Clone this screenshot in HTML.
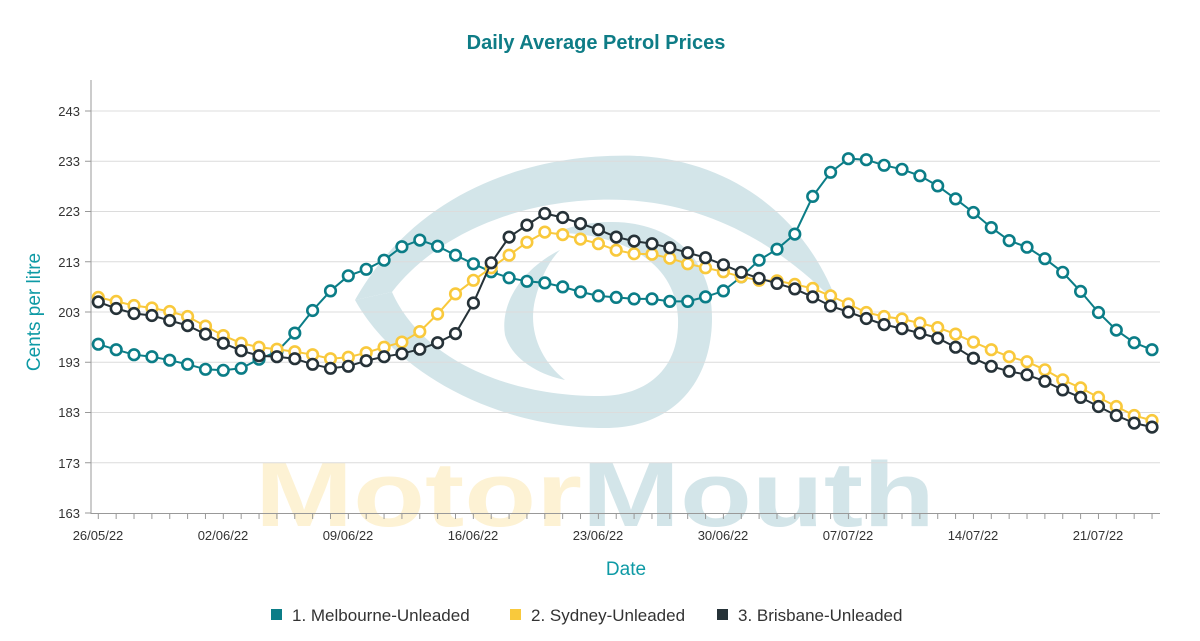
<!DOCTYPE html>
<html><head><meta charset="utf-8"><style>
html,body{margin:0;padding:0;background:#fff;}
svg{display:block;font-family:"Liberation Sans",sans-serif;}
</style></head><body>
<svg width="1200" height="641" viewBox="0 0 1200 641" xmlns="http://www.w3.org/2000/svg">
<defs>
<marker id="mt" viewBox="-7 -7 14 14" markerWidth="14" markerHeight="14" refX="0" refY="0" markerUnits="userSpaceOnUse"><circle r="5.3" fill="#fff" stroke="#0b7d87" stroke-width="2.6"/></marker>
<marker id="my" viewBox="-7 -7 14 14" markerWidth="14" markerHeight="14" refX="0" refY="0" markerUnits="userSpaceOnUse"><circle r="5.3" fill="#fff" stroke="#f9c93c" stroke-width="2.6"/></marker>
<marker id="mb" viewBox="-7 -7 14 14" markerWidth="14" markerHeight="14" refX="0" refY="0" markerUnits="userSpaceOnUse"><circle r="5.3" fill="#fff" stroke="#263238" stroke-width="2.6"/></marker>
</defs>
<rect width="1200" height="641" fill="#fff"/>
<g fill="#d3e5e9">
<path d="M355,300 C420,185 540,152 640,156 C740,162 810,225 838,305 C790,255 720,205 625,200 C530,196 440,230 392,292 Z"/>
<path d="M355,300 C395,372 495,428 605,428 C675,428 712,380 712,318 C712,255 668,222 612,222 C590,222 570,226 555,233 C600,232 675,250 678,318 C680,375 640,396 600,396 C500,396 420,355 392,292 Z"/>
<path d="M560,250 C520,270 500,305 505,335 C512,360 540,375 565,380 C540,360 528,330 535,300 C540,280 548,262 560,250 Z"/>
</g>
<text x="255" y="526" font-size="92" font-weight="bold" textLength="680" lengthAdjust="spacingAndGlyphs"><tspan fill="#fdf2d4">Motor</tspan><tspan fill="#d3e5e9">Mouth</tspan></text>
<g stroke="#dcdcdc" stroke-width="1">
<line x1="91" x2="1160" y1="111" y2="111"/><line x1="91" x2="1160" y1="161.25" y2="161.25"/><line x1="91" x2="1160" y1="211.5" y2="211.5"/><line x1="91" x2="1160" y1="261.75" y2="261.75"/><line x1="91" x2="1160" y1="312" y2="312"/><line x1="91" x2="1160" y1="362.25" y2="362.25"/><line x1="91" x2="1160" y1="412.5" y2="412.5"/><line x1="91" x2="1160" y1="462.75" y2="462.75"/>
</g>
<g stroke="#999"><line x1="85" x2="91" y1="111" y2="111"/><line x1="85" x2="91" y1="161.25" y2="161.25"/><line x1="85" x2="91" y1="211.5" y2="211.5"/><line x1="85" x2="91" y1="261.75" y2="261.75"/><line x1="85" x2="91" y1="312" y2="312"/><line x1="85" x2="91" y1="362.25" y2="362.25"/><line x1="85" x2="91" y1="412.5" y2="412.5"/><line x1="85" x2="91" y1="462.75" y2="462.75"/><line x1="85" x2="91" y1="513" y2="513"/></g>
<line x1="91" y1="80" x2="91" y2="514" stroke="#999"/>
<line x1="91" y1="513.5" x2="1160" y2="513.5" stroke="#999"/>
<line x1="97.8" y1="516" x2="1160" y2="516" stroke="#999" stroke-width="6" stroke-dasharray="1 16.86"/>
<g font-size="13" fill="#333" text-anchor="end">
<text x="80" y="116">243</text><text x="80" y="166">233</text><text x="80" y="216">223</text><text x="80" y="267">213</text><text x="80" y="317">203</text><text x="80" y="367">193</text><text x="80" y="417">183</text><text x="80" y="468">173</text><text x="80" y="518">163</text>
</g>
<g font-size="13" fill="#333" text-anchor="middle">
<text x="98" y="540">26/05/22</text><text x="223" y="540">02/06/22</text><text x="348" y="540">09/06/22</text><text x="473" y="540">16/06/22</text><text x="598" y="540">23/06/22</text><text x="723" y="540">30/06/22</text><text x="848" y="540">07/07/22</text><text x="973" y="540">14/07/22</text><text x="1098" y="540">21/07/22</text>
</g>
<polyline fill="none" stroke="#0b7d87" stroke-width="2" marker-start="url(#mt)" marker-mid="url(#mt)" marker-end="url(#mt)" points="98.3,344.2 116.2,349.7 134.0,354.7 151.9,356.7 169.7,360.2 187.6,364.3 205.5,369.3 223.3,370.3 241.2,368.3 259.0,359.2 276.9,351.7 294.8,333.1 312.6,310.5 330.5,290.9 348.3,275.8 366.2,269.3 384.1,260.2 401.9,246.7 419.8,240.1 437.6,246.2 455.5,255.2 473.4,263.8 491.2,271.8 509.1,277.8 526.9,281.3 544.8,282.9 562.7,286.9 580.5,291.9 598.4,295.9 616.2,297.4 634.1,298.9 652.0,298.9 669.8,301.4 687.7,301.4 705.5,296.9 723.4,290.9 741.3,276.8 759.1,260.2 777.0,249.2 794.8,234.1 812.7,196.4 830.6,172.3 848.4,158.7 866.3,159.7 884.1,165.3 902.0,169.3 919.9,175.8 937.7,185.9 955.6,198.9 973.4,212.5 991.3,227.6 1009.2,240.6 1027.0,247.2 1044.9,258.7 1062.7,272.3 1080.6,291.4 1098.5,312.5 1116.3,330.1 1134.2,342.7 1152.0,349.7"/>
<polyline fill="none" stroke="#f9c93c" stroke-width="2" marker-start="url(#my)" marker-mid="url(#my)" marker-end="url(#my)" points="98.3,297.4 116.2,301.4 134.0,305.5 151.9,308.0 169.7,311.5 187.6,316.5 205.5,326.1 223.3,335.6 241.2,343.2 259.0,347.2 276.9,349.2 294.8,351.7 312.6,354.7 330.5,358.7 348.3,357.2 366.2,352.7 384.1,347.2 401.9,342.1 419.8,331.6 437.6,314.0 455.5,293.9 473.4,280.3 491.2,267.8 509.1,255.2 526.9,242.2 544.8,232.1 562.7,234.6 580.5,239.1 598.4,243.7 616.2,250.2 634.1,253.7 652.0,254.2 669.8,258.2 687.7,263.8 705.5,267.8 723.4,271.8 741.3,276.8 759.1,280.3 777.0,280.8 794.8,284.4 812.7,288.4 830.6,295.9 848.4,304.0 866.3,312.5 884.1,316.5 902.0,319.0 919.9,323.1 937.7,327.6 955.6,334.1 973.4,342.1 991.3,349.7 1009.2,356.7 1027.0,361.7 1044.9,369.8 1062.7,379.8 1080.6,387.9 1098.5,397.4 1116.3,406.5 1134.2,415.5 1152.0,420.5"/>
<polyline fill="none" stroke="#263238" stroke-width="2" marker-start="url(#mb)" marker-mid="url(#mb)" marker-end="url(#mb)" points="98.3,301.9 116.2,308.5 134.0,313.5 151.9,315.5 169.7,320.5 187.6,325.6 205.5,334.1 223.3,343.2 241.2,350.7 259.0,355.7 276.9,356.7 294.8,358.7 312.6,364.3 330.5,368.3 348.3,366.3 366.2,360.7 384.1,356.7 401.9,353.7 419.8,349.2 437.6,342.7 455.5,333.6 473.4,303.0 491.2,262.8 509.1,237.1 526.9,225.1 544.8,213.5 562.7,217.5 580.5,223.6 598.4,229.6 616.2,237.1 634.1,241.1 652.0,243.7 669.8,247.7 687.7,252.7 705.5,257.7 723.4,264.8 741.3,272.3 759.1,278.3 777.0,283.4 794.8,288.9 812.7,296.9 830.6,306.0 848.4,312.0 866.3,318.5 884.1,324.6 902.0,328.6 919.9,333.1 937.7,338.1 955.6,347.2 973.4,358.2 991.3,366.3 1009.2,371.3 1027.0,374.8 1044.9,381.3 1062.7,389.9 1080.6,397.4 1098.5,406.5 1116.3,415.5 1134.2,423.1 1152.0,427.1"/>
<text x="596" y="49" font-size="20" font-weight="bold" fill="#0e7c86" text-anchor="middle">Daily Average Petrol Prices</text>
<text transform="translate(40,312) rotate(-90)" font-size="19" fill="#0e9aa5" text-anchor="middle">Cents per litre</text>
<text x="626" y="575" font-size="19" fill="#0e9aa5" text-anchor="middle">Date</text>
<g font-size="17" fill="#333">
<rect x="271" y="609" width="11" height="11" fill="#0b7d87"/><text x="292" y="621">1. Melbourne-Unleaded</text>
<rect x="510" y="609" width="11" height="11" fill="#f9c93c"/><text x="531" y="621">2. Sydney-Unleaded</text>
<rect x="717" y="609" width="11" height="11" fill="#263238"/><text x="738" y="621">3. Brisbane-Unleaded</text>
</g>
</svg>
</body></html>
